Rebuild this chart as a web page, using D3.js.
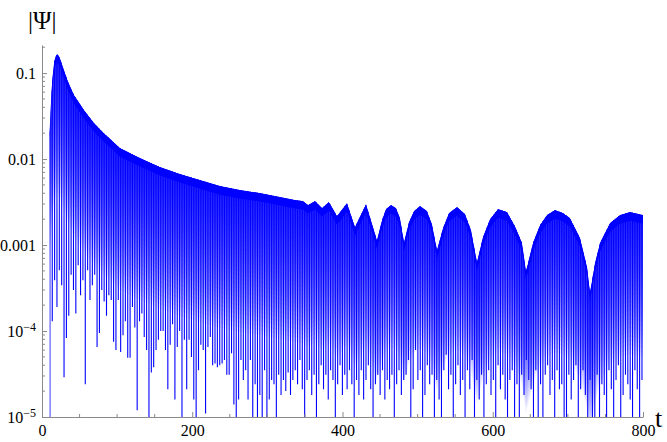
<!DOCTYPE html>
<html>
<head>
<meta charset="utf-8">
<script src="https://cdn.jsdelivr.net/npm/d3@7"></script>
<style>
  body { margin: 0; background: #fff; }
  text { font-family: "Liberation Serif", "Times New Roman", serif; }
</style>
</head>
<body>
<svg id="chart" width="667" height="442"></svg>
<script>
// upper envelope of |Psi(t)|
var envT = [10.0, 12.5, 13.5, 16.0, 18.5, 20.4, 22.5, 24.9, 29.3, 35.0, 42.6, 55.9, 69.2, 82.5,
    103.8, 130.4, 157.0, 183.7, 210.3, 237.0, 263.6, 290.0, 316.8, 336.8,
    347.4, 354.1, 363.4, 372.7, 382.0, 392.7, 406.0, 416.6, 431.3, 445.9,
    452.6, 457.9, 464.6, 471.2, 476.5, 481.9, 488.5, 495.2, 503.2, 512.5, 519.1, 525.8,
    533.8, 541.8, 552.4, 563.1, 571.1, 579.0, 587.0, 596.3, 607.0, 619.0, 629.6, 638.9, 644.3,
    653.6, 662.9, 672.2, 682.9, 693.5, 702.8, 716.2, 725.5, 729.5,
    736.1, 742.8, 756.1, 769.4, 782.7, 800.0];
var envV = [0.02, 0.06, 0.08, 0.134, 0.16, 0.166, 0.158, 0.141, 0.108, 0.078, 0.0555, 0.0372, 0.0263, 0.020,
    0.0134, 0.0103, 0.0081, 0.0067, 0.0057, 0.00485, 0.00436, 0.00403, 0.00362, 0.00334,
    0.00325, 0.00292, 0.00325, 0.00269, 0.00316, 0.00217, 0.00308, 0.00162, 0.00300, 0.00114,
    0.00195, 0.00262, 0.00292, 0.00269, 0.00206, 0.00108, 0.00185, 0.00249, 0.00284, 0.00249, 0.00175, 0.000875,
    0.00158, 0.00236, 0.00277, 0.00229, 0.00149, 0.000634, 0.00124, 0.00200, 0.00262, 0.00242, 0.00165, 0.00106, 0.0005,
    0.00106, 0.00171, 0.00223, 0.00255, 0.00236, 0.00206, 0.00121, 0.000555, 0.000284,
    0.000617, 0.00106, 0.00180, 0.00223, 0.00242, 0.00223];

// sampled minima near each zero crossing, one per half period
var dipStart = 10.5, dipStep = 3.14;
var dips = [
    5e-6, 1.3e-4, 3.9e-4, 1.9e-4, 5.1e-4, 3.4e-4, 2.9e-5, 8.3e-5, 1.5e-4, 4.5e-4,
    3.0e-4, 1.6e-4, 5.8e-4, 2.6e-4, 3.9e-4, 2.4e-5, 5.1e-4, 2.3e-4, 3.4e-4, 4.5e-4,
    6.5e-5, 9.5e-5, 3.0e-4, 2.2e-4, 1.5e-4, 2.6e-4, 2.3e-4, 7.5e-5, 6.0e-5, 2.3e-4,
    5.7e-5, 8.9e-5, 1.3e-4, 4.9e-5, 4.9e-5, 1.9e-4, 1.1e-4, 1.2e-5, 1.3e-4, 1.6e-4,
    8.5e-5, 6.0e-5, 6e-6, 3.3e-5, 3.8e-5, 6.0e-5, 7.9e-5, 1.0e-4, 1.0e-4, 6.0e-5,
    2.1e-5, 6.9e-5, 1.2e-4, 1.6e-5, 6.5e-5, 1.0e-4, 5e-6, 7.9e-5, 2.1e-5, 7.9e-5,
    5.0e-5, 1.6e-5, 5e-6, 3.5e-5, 6.9e-5, 6.0e-5, 1.1e-5, 6.5e-5, 8.5e-5, 4.0e-5,
    4.2e-5, 3.8e-5, 4.0e-5, 4.2e-5, 4.6e-5, 3.1e-5, 3.1e-5, 5.5e-5, 1.4e-5, 5e-6,
    1.6e-5, 4.6e-5, 2.7e-5, 3.5e-5, 1.6e-5, 4.6e-5, 5e-6, 2.4e-5, 5e-6, 1.8e-5,
    5e-6, 3.5e-5, 5e-6, 1.6e-5, 2.7e-5, 2.4e-5, 5e-6, 3.1e-5, 1.8e-5, 2.7e-5,
    2.0e-5, 3.3e-5, 1.8e-5, 2.7e-5, 3.5e-5, 2.4e-5, 4.6e-5, 2.1e-5, 5e-6, 2.7e-5,
    3.5e-5, 1.8e-5, 3.1e-5, 5e-6, 2.4e-5, 4.0e-5, 2.1e-5, 3.1e-5, 1.6e-5, 3.5e-5,
    2.7e-5, 5e-6, 2.4e-5, 4.0e-5, 1.8e-5, 3.1e-5, 2.1e-5, 3.5e-5, 2.4e-5, 5e-6,
    2.7e-5, 1.8e-5, 3.5e-5, 1.6e-5, 2.7e-5, 4.0e-5, 2.1e-5, 5e-6, 2.4e-5, 3.1e-5,
    1.8e-5, 3.5e-5, 1.6e-5, 2.7e-5, 2.1e-5, 3.1e-5, 5e-6, 2.4e-5, 3.5e-5, 1.8e-5,
    2.7e-5, 3.1e-5, 4.6e-5, 5e-6, 2.1e-5, 6.0e-5, 2.7e-5, 3.5e-5, 5e-6, 1.8e-5,
    4.0e-5, 2.4e-5, 3.1e-5, 5e-6, 2.7e-5, 1.6e-5, 5e-6, 3.5e-5, 5.3e-5, 2.1e-5,
    3.1e-5, 5e-6, 2.4e-5, 4.0e-5, 1.8e-5, 2.7e-5, 5e-6, 3.5e-5, 2.1e-5, 4.6e-5,
    5e-6, 2.7e-5, 1.6e-5, 3.1e-5, 5e-6, 2.4e-5, 3.5e-5, 1.8e-5, 2.7e-5, 5e-6,
    4.0e-5, 2.1e-5, 3.1e-5, 1.6e-5, 5e-6, 2.7e-5, 3.5e-5, 5e-6, 2.4e-5, 5e-6,
    3.1e-5, 1.8e-5, 4.6e-5, 2.7e-5, 2.1e-5, 5e-6, 3.5e-5, 5e-6, 2.4e-5, 5e-6,
    3.1e-5, 4.0e-5, 1.8e-5, 2.7e-5, 5e-6, 3.5e-5, 2.1e-5, 2.4e-5, 5e-6, 5e-6,
    3.1e-5, 1.6e-5, 2.7e-5, 4.0e-5, 5e-6, 2.1e-5, 3.5e-5, 1.8e-5, 5e-6, 2.7e-5,
    5e-6, 5e-6, 3.1e-5, 5e-6, 2.4e-5, 1.8e-5, 5e-6, 3.5e-5, 2.1e-5, 5e-6,
    2.7e-5, 4.0e-5, 5e-6, 1.8e-5, 3.1e-5, 2.4e-5, 1.6e-5, 5e-6, 3.5e-5, 2.1e-5,
    5e-6, 2.7e-5];

var xTicks = [0, 200, 400, 600, 800];
var yTicks = [1e-5, 1e-4, 1e-3, 1e-2, 1e-1];
var yTickBase = ['10', '10', '0.001', '0.01', '0.1'];
var yTickExp = ['\u22125', '\u22124', '', '', ''];

var svg = d3.select('#chart');
var axisColor = '#8a8a8a';

var x = d3.scaleLinear().domain([0, 800]).range([42, 643]);
var y = d3.scaleLog().domain([1e-5, 0.212]).range([417, 45]);

var env = envT.map(function (t, i) { return {t: t, v: envV[i]}; });

// clip everything to the area under the envelope
svg.append('defs').append('clipPath').attr('id', 'envclip')
    .append('path')
    .attr('d', d3.area()
        .x(function (d) { return x(d.t); })
        .y0(y(1e-5))
        .y1(function (d) { return y(d.v); })(env));

var plot = svg.append('g').attr('clip-path', 'url(#envclip)');

// shading under the envelope: the sides of the fast oscillation crowd together
// near the top, so the colour is densest there and fades downward.
// overlapping translucent layers, each reaching a given depth (in decades)
function bandArea(depth) {
    return d3.area()
        .x(function (d) { return x(d.t); })
        .y0(function (d) { return y(d.v * Math.pow(10, -depth)); })
        .y1(function (d) { return y(d.v); })(env);
}
plot.selectAll('path.shade')
    .data(d3.range(0.1, 1.7, 0.05))
    .enter().append('path')
    .attr('class', 'shade')
    .attr('d', bandArea)
    .attr('fill', '#0000ff')
    .attr('fill-opacity', 0.056);

// fast oscillation: one stroke per zero crossing, from its dip up past the envelope
plot.selectAll('line.osc')
    .data(dips)
    .enter().append('line')
    .attr('class', 'osc')
    .attr('x1', function (d, k) { return x(dipStart + k * dipStep); })
    .attr('x2', function (d, k) { return x(dipStart + k * dipStep); })
    .attr('y1', function (d) { return y(d); })
    .attr('y2', y(y.domain()[1]))
    .attr('stroke', '#0000ff')
    .attr('stroke-width', 1.1);

// solid strip right under the envelope
plot.append('path')
    .attr('d', bandArea(0.1))
    .attr('fill', '#0000ff');

// x axis
var xAxis = d3.axisBottom(x).tickValues(xTicks).tickSize(-5).tickSizeOuter(0).tickPadding(8)
    .tickFormat(d3.format('d'));
var gx = svg.append('g').attr('transform', 'translate(0,417)').call(xAxis);
gx.selectAll('line.minor')
    .data(d3.range(0, 801, 50).filter(function (d) { return d % 200 !== 0; }))
    .enter().append('line')
    .attr('class', 'minor')
    .attr('x1', function (d) { return x(d); }).attr('x2', function (d) { return x(d); })
    .attr('y1', 0).attr('y2', -3);

// y axis
var yAxis = d3.axisLeft(y).tickValues(yTicks).tickSize(-5).tickSizeOuter(0).tickPadding(6)
    .tickFormat(function (d, i) { return yTickBase[i]; });
var gy = svg.append('g').attr('transform', 'translate(42,0)').call(yAxis);
gy.selectAll('.tick text').each(function (d, i) {
    if (yTickExp[i]) {
        d3.select(this).append('tspan').attr('dy', '-0.45em').attr('font-size', '12px').text(yTickExp[i]);
    }
});
var yMinor = [];
[-5, -4, -3, -2, -1].forEach(function (e) {
    d3.range(2, 10).forEach(function (m) {
        var v = m * Math.pow(10, e);
        if (v <= y.domain()[1]) yMinor.push(v);
    });
});
gy.selectAll('line.minor').data(yMinor).enter().append('line')
    .attr('class', 'minor')
    .attr('y1', function (d) { return y(d); }).attr('y2', function (d) { return y(d); })
    .attr('x1', 0).attr('x2', 3);

[gx, gy].forEach(function (g) {
    g.attr('font-family', '"Liberation Serif", "Times New Roman", serif').attr('font-size', 16);
    g.selectAll('.domain, line').attr('stroke', axisColor);
    g.selectAll('text').attr('fill', '#000');
});

// axis titles
svg.append('text').attr('x', 28).attr('y', 29).attr('font-size', 25).attr('fill', '#000').text('|\u03a8|');
svg.append('text').attr('x', 655).attr('y', 427).attr('font-size', 26).attr('fill', '#000').text('t');
</script>
</body>
</html>
